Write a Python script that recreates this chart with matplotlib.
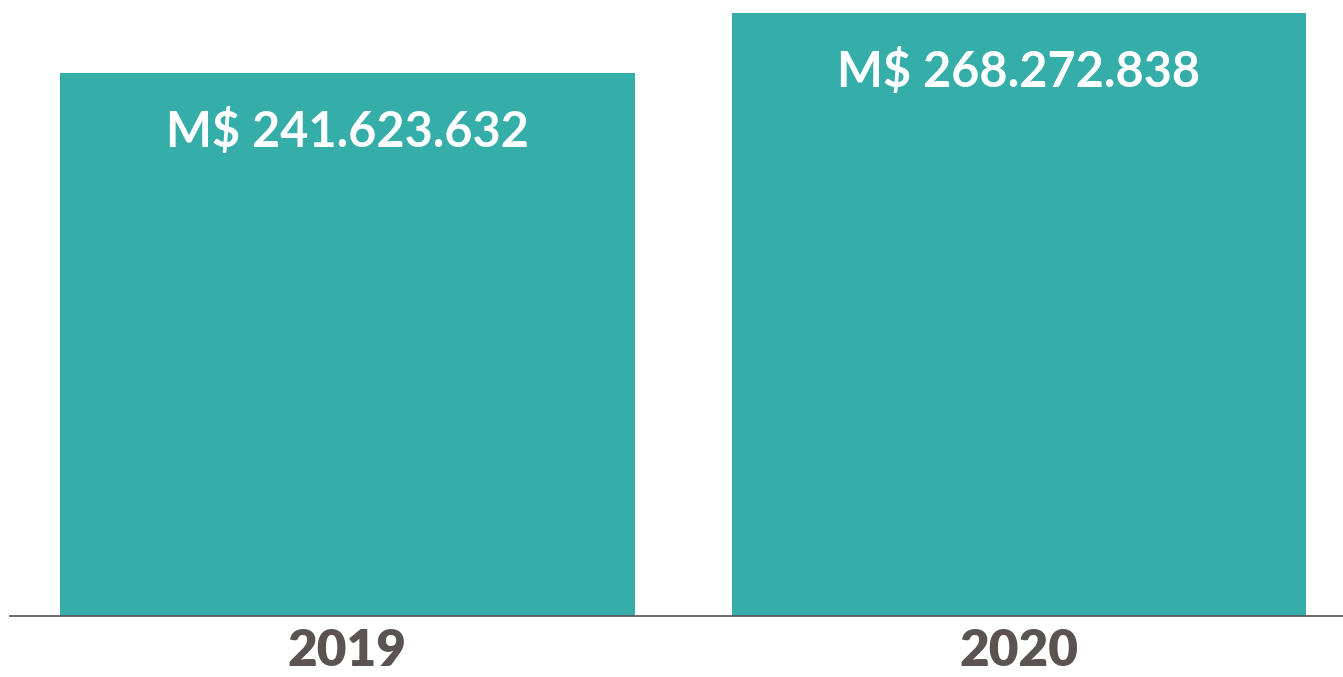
import matplotlib.pyplot as plt

years = ["2019", "2020"]
values = [241623632, 268272838]
labels = ["M$ 241.623.632", "M$ 268.272.838"]

bar_color = "#35ADA9"
axis_color = "#5B5252"

fig = plt.figure(figsize=(13.43, 6.77), dpi=100)
ax = fig.add_axes([10 / 1343, 61 / 677, 1333 / 1343, 616 / 677])

x = range(len(years))
bars = ax.bar(x, values, width=0.856, color=bar_color)

for b, lab in zip(bars, labels):
    ax.annotate(lab, (b.get_x() + b.get_width() / 2, b.get_height()),
                xytext=(0, -42), textcoords="offset points",
                ha="center", va="center", color="white",
                fontsize=35, fontweight="bold", family="Lato")

ax.set_xlim(-0.5026, 1.4825)
ax.set_ylim(0, 268272838 * 616 / 603)
ax.set_xticks(list(x))
ax.set_xticklabels(years, fontsize=37, fontweight="heavy", family="Lato", color=axis_color)
ax.tick_params(axis="x", length=0, pad=9)
ax.set_yticks([])
for s in ["top", "right", "left"]:
    ax.spines[s].set_visible(False)
ax.spines["bottom"].set_color(axis_color)
ax.spines["bottom"].set_linewidth(1.2)

fig.savefig("out.png", dpi=100)
